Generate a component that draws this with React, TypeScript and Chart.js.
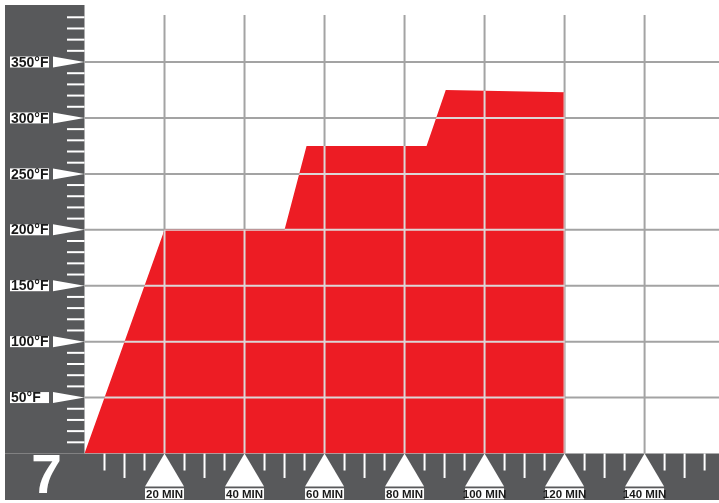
import React, { useEffect, useRef } from 'react';
import { Chart, registerables } from 'chart.js';

Chart.register(...registerables);

// Heating profile (time in minutes, temperature in °F)
const timeMin = [0, 20, 50, 55.5, 85.5, 90.3, 120, 120];
const tempF = [0, 200, 200, 275, 275, 325, 323, 0];

const tempTicks = [50, 100, 150, 200, 250, 300, 350];
const tempLabels = ['50°F', '100°F', '150°F', '200°F', '250°F', '300°F', '350°F'];
const timeTicks = [20, 40, 60, 80, 100, 120, 140];
const timeLabels = ['20 MIN', '40 MIN', '60 MIN', '80 MIN', '100 MIN', '120 MIN', '140 MIN'];
const stageNumber = '7';

const RED = '#ed1c24';
const GRAY = '#58595b';
const GRID = '#a3a3a3';
const GRID_ON_FILL = '#dcd6d6';

function seg(ctx: CanvasRenderingContext2D, x1: number, y1: number, x2: number, y2: number) {
  ctx.beginPath();
  ctx.moveTo(x1, y1);
  ctx.lineTo(x2, y2);
  ctx.stroke();
}

function drawGrid(chart: any, color: string) {
  const { ctx, chartArea: a, scales } = chart;
  const x = scales.x;
  const y = scales.y;
  ctx.strokeStyle = color;
  ctx.lineWidth = 2;
  tempTicks.forEach((v) => {
    const py = y.getPixelForValue(v);
    seg(ctx, a.left, py, a.right, py);
  });
  const top = y.getPixelForValue(392);
  timeTicks.forEach((v) => {
    const px = x.getPixelForValue(v);
    seg(ctx, px, top, px, a.bottom);
  });
}

const decor = {
  id: 'decor',
  beforeDatasetsDraw(chart: any) {
    const { ctx, chartArea: a, scales } = chart;
    const x = scales.x;
    const y = scales.y;
    ctx.save();
    // bands
    ctx.fillStyle = GRAY;
    ctx.fillRect(5, 5, a.left - 5, a.bottom - 5);
    ctx.fillRect(5, a.bottom, chart.width - 5, 500 - a.bottom);

    drawGrid(chart, GRID);

    // left minor ticks
    ctx.strokeStyle = '#ffffff';
    ctx.lineWidth = 2;
    for (let v = 10; v < 400; v += 10) {
      if (v % 50 === 0) continue;
      const py = y.getPixelForValue(v);
      seg(ctx, 67, py, a.left, py);
    }
    // bottom minor ticks
    for (let t = 5; t < 159; t += 5) {
      if (t % 20 === 0) continue;
      const px = x.getPixelForValue(t);
      seg(ctx, px, a.bottom, px, a.bottom + (t % 10 === 0 ? 24.5 : 17));
    }

    // left pointers and labels
    tempTicks.forEach((v, i) => {
      const py = y.getPixelForValue(v);
      ctx.fillStyle = '#ffffff';
      ctx.beginPath();
      ctx.moveTo(a.left, py);
      ctx.lineTo(53, py - 5.5);
      ctx.lineTo(53, py + 5.5);
      ctx.closePath();
      ctx.fill();
      ctx.fillRect(10, py - 5.5, 39, 11);
      ctx.fillStyle = '#1a1a1a';
      ctx.font = 'bold 14px "Liberation Sans", Arial, sans-serif';
      ctx.textAlign = 'left';
      ctx.textBaseline = 'middle';
      ctx.fillText(tempLabels[i], 11, py + 0.8);
    });

    // bottom pointers and labels
    timeTicks.forEach((v, i) => {
      const px = x.getPixelForValue(v);
      ctx.fillStyle = '#ffffff';
      ctx.beginPath();
      ctx.moveTo(px, a.bottom);
      ctx.lineTo(px - 19.5, a.bottom + 33);
      ctx.lineTo(px + 19.5, a.bottom + 33);
      ctx.closePath();
      ctx.fill();
      ctx.fillRect(px - 19.5, 488.3, 39, 11);
      ctx.fillStyle = '#1a1a1a';
      ctx.font = 'bold 11.5px "Liberation Sans", Arial, sans-serif';
      ctx.textAlign = 'center';
      ctx.textBaseline = 'middle';
      ctx.fillText(timeLabels[i], px, 494.5);
    });

    // stage number
    ctx.fillStyle = '#ffffff';
    ctx.font = 'bold 55px "Liberation Sans", Arial, sans-serif';
    ctx.textAlign = 'center';
    ctx.textBaseline = 'alphabetic';
    ctx.fillText(stageNumber, 46.5, 493);
    ctx.restore();
  },
  afterDatasetsDraw(chart: any) {
    const { ctx } = chart;
    const meta = chart.getDatasetMeta(0);
    const pts = meta.data;
    if (!pts || !pts.length) return;
    ctx.save();
    ctx.beginPath();
    pts.forEach((p: any, i: number) => {
      if (i === 0) ctx.moveTo(p.x, p.y);
      else ctx.lineTo(p.x, p.y);
    });
    ctx.closePath();
    ctx.clip();
    drawGrid(chart, GRID_ON_FILL);
    ctx.restore();
  },
};

export default function App() {
  const ref = useRef<HTMLCanvasElement | null>(null);
  useEffect(() => {
    if (!ref.current) return;
    const chart = new Chart(ref.current, {
      type: 'line',
      data: {
        datasets: [
          {
            data: timeMin.map((t, i) => ({ x: t, y: tempF[i] })),
            borderWidth: 0,
            borderColor: RED,
            backgroundColor: RED,
            pointRadius: 0,
            fill: 'origin',
            tension: 0,
          },
        ],
      },
      options: {
        responsive: false,
        animation: false,
        layout: { padding: { left: 84.5, right: 0, top: 6.1, bottom: 49.5 } },
        plugins: { legend: { display: false }, tooltip: { enabled: false } },
        scales: {
          x: { type: 'linear', min: 0, max: 158.6, display: false },
          y: { type: 'linear', min: 0, max: 400, display: false },
        },
      },
      plugins: [decor],
    });
    return () => chart.destroy();
  }, []);
  return (
    <div style={{ position: 'fixed', left: 0, top: 0, width: 719, height: 503, background: '#ffffff' }}>
      <canvas ref={ref} width={719} height={503} />
    </div>
  );
}
